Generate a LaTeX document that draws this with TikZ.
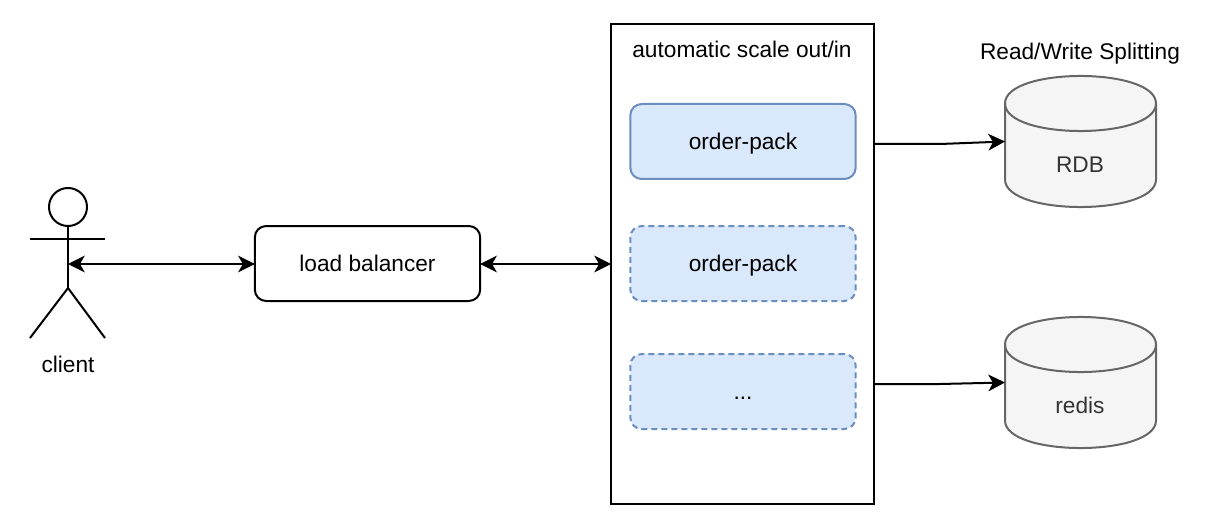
\documentclass[tikz,border=0pt]{standalone}
\usepackage{fontspec}
\setmainfont{Liberation Sans}
\usetikzlibrary{arrows.meta}
\definecolor{packfill}{HTML}{DAE8FC}
\definecolor{packline}{HTML}{6C8EBF}
\definecolor{dbfill}{HTML}{F5F5F5}
\definecolor{dbline}{HTML}{666666}
\definecolor{dbtext}{HTML}{333333}
\tikzset{
  every node/.style={font=\fontsize{17}{20}\selectfont, inner sep=0pt, outer sep=0pt, text height=14pt, text depth=2.5pt},
  lw/.style={line width=1.5pt},
  boxbase/.style={lw, draw=black, rounded corners=8.5pt, minimum width=169pt, minimum height=56.25pt},
  pack/.style={boxbase, draw=packline, fill=packfill},
  packdash/.style={pack, dash pattern=on 4.5pt off 3pt},
  container/.style={lw, draw=black, minimum width=197.25pt, minimum height=360pt},
  dbbody/.style={lw, draw=dbline, fill=dbfill, line join=round},
  dbnode/.style={minimum width=113.25pt, minimum height=97.5pt},
  dblabel/.style={text=dbtext},
  link/.style={lw, -{Stealth[length=12.5pt,width=12.5pt,inset=3.5pt]}},
  biglink/.style={lw, {Stealth[length=12.5pt,width=12.5pt,inset=3.5pt]}-{Stealth[length=12.5pt,width=12.5pt,inset=3.5pt]}},
}
\newcommand{\dbshape}[1]{%
  \begin{scope}[yshift=#1*-0.75pt]
    \draw[dbbody] (1005,103.5) .. controls (1005,66.8) and (1156,66.8) .. (1156,103.5)
      -- (1156,179.5) .. controls (1156,216.2) and (1005,216.2) .. (1005,179.5) -- cycle;
    \draw[dbbody, fill=none] (1005,103.5) .. controls (1005,140.2) and (1156,140.2) .. (1156,103.5);
  \end{scope}}
\begin{document}
\begin{tikzpicture}[x=0.75pt,y=-0.75pt]
\useasboundingbox (0,0) rectangle (1210,524);
% actor
\node[lw, draw=black, circle, minimum size=28.5pt, text height=0pt, text depth=0pt] (head) at (68,207) {};
\coordinate (neck) at (68,226);
\coordinate (hip) at (68,288);
\coordinate (armL) at (30,238.5);
\coordinate (armR) at (105,238.5);
\coordinate (footL) at (30,338);
\coordinate (footR) at (105,338);
\coordinate (actor) at (68,264);
\draw[lw] (head.south) -- (hip);
\draw[lw] (armL) -- (armR);
\draw[lw] (footL) -- (hip) -- (footR);
\node (clientlabel) at (68,364.5) {client};
% load balancer
\node[boxbase] (lb) at (367.5,263.5) {load balancer};
% container
\node[container] (scale) at (742.5,264) {};
\node (scaletitle) at (742,50) {automatic scale out/in};
\node[pack] (p1) at (743,141.5) {order-pack};
\node[packdash] (p2) at (743,263.5) {order-pack};
\node[packdash] (p3) at (743,391.5) {...};
% databases
\dbshape{0}
\node[dbnode] (rdb) at (1080.5,141.5) {};
\node[dblabel] (rdblabel) at (1080,165) {RDB};
\dbshape{241}
\node[dbnode] (redis) at (1080.5,382.5) {};
\node[dblabel] (redislabel) at (1080,405.5) {redis};
\node (rw) at (1080,52) {Read/Write Splitting};
% connectors
\draw[biglink] (actor) -- (lb.west |- actor);
\draw[biglink] (lb.east |- actor) -- (scale.west);
\coordinate (o1) at (874,144);
\coordinate (o2) at (874,384);
\draw[link] (o1) -- (940,144) -- (rdb.west);
\draw[link] (o2) -- (940,384) -- (redis.west);
\end{tikzpicture}
\end{document}
